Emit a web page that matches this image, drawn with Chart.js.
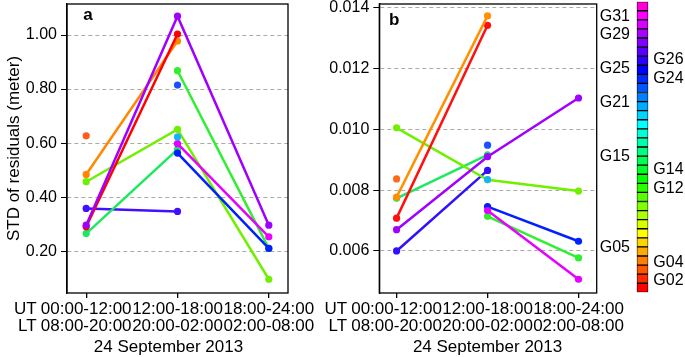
<!DOCTYPE html>
<html>
<head>
<meta charset="utf-8">
<script src="https://cdn.jsdelivr.net/npm/chart.js@4"></script>
<style>
  body { margin: 0; background: #fff; }
  #wrap { position: relative; width: 685px; height: 357px; }
  canvas { position: absolute; top: 0; }
</style>
</head>
<body>
<div id="wrap">
  <canvas id="chartA" width="330" height="357" style="left:0px"></canvas>
  <canvas id="chartB" width="330" height="357" style="left:300px"></canvas>
  <canvas id="chartC" width="55" height="357" style="left:630px"></canvas>
</div>
<script>
// time slots (x positions) and their labels
const slots = [0, 1, 2];
const utLabels = ['00:00-12:00', '12:00-18:00', '18:00-24:00'];
const ltLabels = ['08:00-20:00', '20:00-02:00', '02:00-08:00'];
const dateLabel = '24 September 2013';

// panel a: STD of residuals (meter)
const aPurple  = [0.296, 1.070, 0.296];
const aRed     = [0.290, 1.004, null];
const aOrange  = [0.484, 0.978, null];
const aOrDot   = [0.627, null, null];
const aLime    = [0.457, 0.651, 0.096];
const aGreen   = [null, 0.868, 0.210];
const aSpring  = [0.265, 0.577, null];
const aSky     = [null, 0.623, null];
const aBlueDot = [null, 0.815, null];
const aBlue    = [null, 0.563, 0.210];
const aIndigo  = [0.358, 0.347, null];
const aMagenta = [null, 0.598, 0.253];
const yTicksA  = [0.2, 0.4, 0.6, 0.8, 1.0];

// panel b
const bSky     = [null, 0.00835, null];
const bPurple  = [0.00670, 0.00910, 0.01103];
const bOrange  = [0.00777, 0.01373, null];
const bRed     = [0.00708, 0.01342, null];
const bOrDot   = [0.00837, null, null];
const bLime    = [0.01005, 0.00834, 0.00797];
const bSpring  = [0.00773, 0.00916, null];
const bBlueDot = [null, 0.00948, null];
const bIndigo  = [0.00600, 0.00865, null];
const bMagenta = [null, 0.00733, 0.00507];
const bBlue    = [null, 0.00746, 0.00632];
const bGreen   = [null, 0.00714, 0.00577];
const yTicksB  = [0.006, 0.008, 0.010, 0.012, 0.014];
const gLabelsB = ['G31', 'G29', 'G25', 'G21', 'G15', 'G05'];
const gValuesB = [0.01370, 0.01311, 0.01200, 0.01089, 0.00910, 0.00610];

// colour bar (one cell per satellite, red at the bottom)
const cbCells  = [1, 1, 1, 1, 1, 1, 1, 1, 1, 1, 1, 1, 1, 1, 1, 1,
                  1, 1, 1, 1, 1, 1, 1, 1, 1, 1, 1, 1, 1, 1, 1, 1];
const cbLabels = ['G26', 'G24', 'G14', 'G12', 'G04', 'G02'];
const cbValues = [25.6, 23.5, 13.5, 11.4, 3.3, 1.24];

Chart.defaults.font.family = "'Liberation Sans', Arial, sans-serif";
Chart.defaults.color = '#000';

function series(values, color) {
  return {
    data: values.map((v, i) => ({ x: slots[i], y: v })),
    borderColor: color,
    backgroundColor: color,
    borderWidth: 2.5,
    pointRadius: 3.6,
    pointBorderWidth: 0,
    spanGaps: false
  };
}

// drop the extra room Chart.js keeps for half tick labels
function noPad(s) {
  s.paddingTop = 0; s.paddingBottom = 0; s.paddingLeft = 0; s.paddingRight = 0;
}

// box, panel letter and the UT / LT / date texts
function decor(letter, letterDx, letterDy, dateDx) {
  return {
    id: 'decor' + letter,
    afterDraw(chart) {
      const { ctx, chartArea: ca, scales } = chart;
      ctx.save();
      ctx.strokeStyle = '#000';
      ctx.lineWidth = 1.3;
      ctx.strokeRect(ca.left, ca.top, ca.right - ca.left, ca.bottom - ca.top);
      ctx.fillStyle = '#000';
      ctx.font = "bold 17px 'Liberation Sans', Arial";
      ctx.textAlign = 'center';
      ctx.textBaseline = 'middle';
      ctx.fillText(letter, ca.left + letterDx, ca.top + letterDy);
      ctx.font = "17px 'Liberation Sans', Arial";
      const x0 = scales.x.getPixelForValue(slots[0]);
      const y0 = ca.bottom + 5 + 3 + 8.5;
      ctx.textAlign = 'right';
      ctx.fillText('UT', x0 - 49.5, y0);
      ctx.fillText('LT', x0 - 49.5, y0 + 17);
      ctx.textAlign = 'center';
      ctx.fillText(dateLabel, scales.x.getPixelForValue(slots[1]) + dateDx, ca.bottom + 54);
      ctx.restore();
    }
  };
}

function xAxis(min, max) {
  return {
    type: 'linear', min: min, max: max,
    afterBuildTicks: s => { s.ticks = slots.map(v => ({ value: v })); },
    afterFit: s => { s.height = 64; noPad(s); },
    ticks: {
      callback: v => [utLabels[slots.indexOf(v)], ltLabels[slots.indexOf(v)]],
      font: { size: 17, lineHeight: 1.0 }, padding: 3,
      maxRotation: 0, autoSkip: false
    },
    grid: { drawOnChartArea: false, tickColor: '#000', tickLength: 5, lineWidth: 1.3 },
    border: { display: false }
  };
}

function yAxis(min, max, ticks, digits, width) {
  return {
    min: min, max: max,
    afterBuildTicks: s => { s.ticks = ticks.map(v => ({ value: v })); },
    afterFit: s => { s.width = width; noPad(s); },
    ticks: { callback: v => Number(v).toFixed(digits), font: { size: 16 }, padding: 4, autoSkip: false },
    grid: { color: '#aaaaaa', lineWidth: 1, tickColor: '#000', tickLength: 6 },
    border: { dash: [4, 3], color: '#000', width: 1.3 }
  };
}

const common = {
  responsive: false,
  animation: false,
  plugins: { legend: { display: false }, tooltip: { enabled: false } }
};

// panel a
const yA = yAxis(0.045, 1.115, yTicksA, 2, 67);
yA.title = { display: true, text: 'STD of residuals (meter)', font: { size: 17 }, padding: { top: 4, bottom: 0 } };
new Chart(document.getElementById('chartA'), {
  type: 'line',
  data: {
    datasets: [
      series(aPurple, '#a000ff'),
      series(aRed, '#ff0000'),
      series(aOrange, '#ff8800'),
      series(aOrDot, '#ff5a1a'),
      series(aSky, '#1ab0ff'),
      series(aMagenta, '#e600ff'),
      series(aBlue, '#0020ff'),
      series(aLime, '#70f000'),
      series(aSpring, '#1ee860'),
      series(aGreen, '#30ee30'),
      series(aBlueDot, '#1a50ff'),
      series(aIndigo, '#4010ff')
    ]
  },
  options: Object.assign({}, common, {
    layout: { padding: { left: 0, top: 2, right: 42, bottom: 0 } },
    scales: { x: xAxis(-0.21, 2.21), y: yA }
  }),
  plugins: [decor('a', 21, 11, -9)]
});

// panel b
new Chart(document.getElementById('chartB'), {
  type: 'line',
  data: {
    datasets: [
      series(bSky, '#1ab0ff'),
      series(bPurple, '#a000ff'),
      series(bOrange, '#ff9000'),
      series(bRed, '#ff1010'),
      series(bOrDot, '#ff6a1a'),
      series(bLime, '#70f000'),
      series(bSpring, '#1ee860'),
      series(bBlueDot, '#1a50ff'),
      series(bIndigo, '#3010ff'),
      series(bMagenta, '#e600ff'),
      series(bBlue, '#0020ff'),
      series(bGreen, '#30ee30')
    ]
  },
  options: Object.assign({}, common, {
    layout: { padding: { left: 0, top: 2, right: 0, bottom: 0 } },
    scales: {
      x: xAxis(-0.19, 2.2),
      y: yAxis(0.004618, 0.014121, yTicksB, 3, 79.3),
      yG: {
        position: 'right', min: 0.004618, max: 0.014121,
        afterBuildTicks: s => { s.ticks = gValuesB.map(v => ({ value: v })); },
        afterFit: s => { s.width = 33.3; noPad(s); },
        ticks: { callback: v => gLabelsB[gValuesB.indexOf(v)], font: { size: 16 }, padding: 3, autoSkip: false },
        grid: { display: false, drawTicks: false },
        border: { display: false }
      }
    }
  }),
  plugins: [decor('b', 15, 16, 0)]
});

// colour bar
new Chart(document.getElementById('chartC'), {
  type: 'bar',
  data: {
    labels: [''],
    datasets: cbCells.map((v, k) => ({
      data: [v],
      backgroundColor: 'hsl(' + (k * 10) + ',100%,50%)',
      borderColor: '#000',
      borderWidth: 1,
      borderSkipped: false,
      barPercentage: 1,
      categoryPercentage: 1
    }))
  },
  options: Object.assign({}, common, {
    layout: { padding: { left: 6.7, top: 1.7, right: 0, bottom: 64.7 } },
    scales: {
      x: { display: false, stacked: true },
      y: {
        stacked: true, position: 'right', min: 0, max: 32,
        afterBuildTicks: s => { s.ticks = cbValues.map(v => ({ value: v })); },
        afterFit: s => { s.width = 36.7; noPad(s); },
        ticks: { callback: v => cbLabels[cbValues.indexOf(v)], font: { size: 16 }, padding: 5, autoSkip: false },
        grid: { display: false, drawTicks: false },
        border: { display: false }
      }
    }
  })
});
</script>
</body>
</html>
